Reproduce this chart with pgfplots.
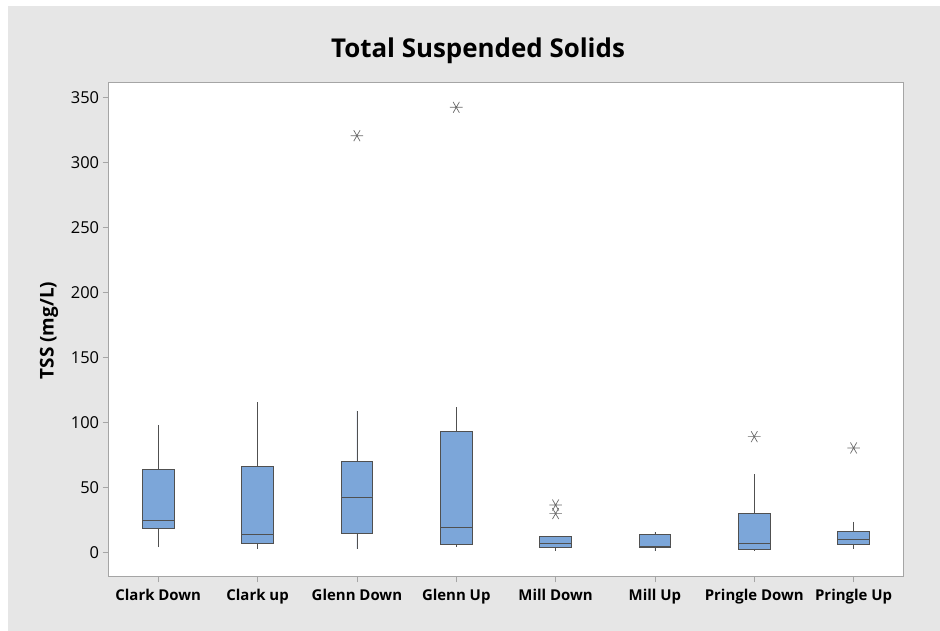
\documentclass[border=0pt]{standalone}
\usepackage{pgfplots}
\pgfplotsset{compat=1.18}
\usepgfplotslibrary{statistics}
\usepackage{fontspec}
\setmainfont{Open Sans}
\definecolor{boxfill}{RGB}{124,166,217}
\definecolor{boxline}{RGB}{80,80,80}
\definecolor{panel}{RGB}{230,230,230}
\definecolor{frame}{RGB}{165,165,165}
\begin{document}
\begin{tikzpicture}[x=1bp,y=1bp]
\useasboundingbox (0,0) rectangle (940,631);
\fill[white] (0,0) rectangle (940,631);
\fill[panel] (8,0) rectangle (940,625);
\begin{axis}[
  at={(109.3,42.0)}, anchor=south west, scale only axis,
  width=794.7bp, height=494bp,
  xmin=-0.5, xmax=7.5, ymin=-18.5, ymax=361.5,
  axis background/.style={fill=white},
  axis line style={frame, line width=0.8bp},
  xtick={0,...,7},
  xticklabels={Clark Down, Clark up, Glenn Down, Glenn Up, Mill Down, Mill Up, Pringle Down, Pringle Up},
  ytick={0,50,...,350},
  tick align=outside, xtick pos=bottom, ytick pos=left,
  major tick length=6bp,
  tick style={frame, line width=0.8bp},
  xticklabel style={font=\fontsize{15}{18}\selectfont\bfseries, yshift=-3bp},
  yticklabel style={font=\fontsize{16.5}{19}\selectfont},
  /pgf/number format/assume math mode=true,
  boxplot/draw direction=y,
  every axis plot/.append style={draw=boxline, fill=boxfill, line width=0.8bp, mark=asterisk, mark size=6.3bp, mark options={draw=boxline!85!white, line width=0.7bp, rotate=90}},
]
\addplot[boxplot prepared={draw position=0, lower whisker=3.8, lower quartile=18.8, median=24.9, upper quartile=63.8, upper whisker=98, box extend=0.32, whisker extend=0}] coordinates {};
\addplot[boxplot prepared={draw position=1, lower whisker=2.6, lower quartile=7.2, median=13.6, upper quartile=66.2, upper whisker=115.4, box extend=0.32, whisker extend=0}] coordinates {};
\addplot[boxplot prepared={draw position=2, lower whisker=2.6, lower quartile=14.9, median=42.6, upper quartile=70.3, upper whisker=109, box extend=0.32, whisker extend=0}] table[row sep=\\, y index=0] {y\\ 320.5\\};
\addplot[boxplot prepared={draw position=3, lower whisker=4.4, lower quartile=6.2, median=19, upper quartile=92.8, upper whisker=111.5, box extend=0.32, whisker extend=0}] table[row sep=\\, y index=0] {y\\ 342.3\\};
\addplot[boxplot prepared={draw position=4, lower whisker=1.3, lower quartile=3.6, median=7.2, upper quartile=12.6, upper whisker=12.6, box extend=0.32, whisker extend=0}] table[row sep=\\, y index=0] {y\\ 29.8\\ 36.4\\};
\addplot[boxplot prepared={draw position=5, lower whisker=1.1, lower quartile=3.6, median=4.9, upper quartile=13.6, upper whisker=15.9, box extend=0.32, whisker extend=0}] coordinates {};
\addplot[boxplot prepared={draw position=6, lower whisker=1.1, lower quartile=2.3, median=7.2, upper quartile=30, upper whisker=60, box extend=0.32, whisker extend=0}] table[row sep=\\, y index=0] {y\\ 89\\};
\addplot[boxplot prepared={draw position=7, lower whisker=2.6, lower quartile=6.2, median=10, upper quartile=16.2, upper whisker=23.6, box extend=0.32, whisker extend=0}] table[row sep=\\, y index=0] {y\\ 80.3\\};
\end{axis}
\node[font=\fontsize{26}{30}\selectfont\bfseries, anchor=base] at (478,573.3) {Total Suspended Solids};
\node[font=\fontsize{19}{22}\selectfont\bfseries, rotate=90, anchor=base] at (53.5,300.5) {TSS (mg/L)};
\end{tikzpicture}
\end{document}
